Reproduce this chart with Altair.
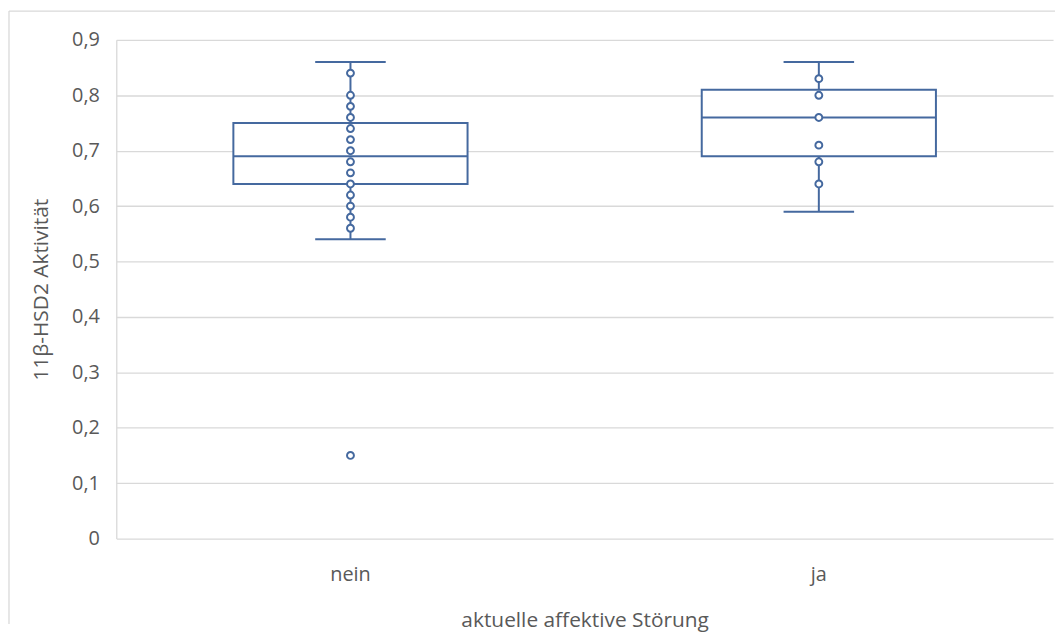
import altair as alt
import pandas as pd

# ---- data ----
categories = ["nein", "ja"]
whisker_low = [0.54, 0.59]
q1 = [0.64, 0.69]
median = [0.69, 0.76]
q3 = [0.75, 0.81]
whisker_high = [0.86, 0.86]

nein_points = [0.84, 0.80, 0.78, 0.76, 0.74, 0.72, 0.70, 0.68, 0.66, 0.64,
               0.62, 0.60, 0.58, 0.56, 0.15]
ja_points = [0.83, 0.80, 0.76, 0.71, 0.68, 0.64]

y_ticks = [0, 0.1, 0.2, 0.3, 0.4, 0.5, 0.6, 0.7, 0.8, 0.9]

x_title = "aktuelle affektive Störung"
y_title = "11β-HSD2 Aktivität"

# ---- tables ----
stats = pd.DataFrame({
    "cat": categories,
    "lo": whisker_low,
    "q1": q1,
    "med": median,
    "q3": q3,
    "hi": whisker_high,
})
points = pd.DataFrame({
    "cat": ["nein"] * len(nein_points) + ["ja"] * len(ja_points),
    "v": nein_points + ja_points,
})

BLUE = "#45699f"
GRID = "#d9d9d9"
TEXT = "#595959"
FONT = "Open Sans"
W, H = 943, 502

x_enc = alt.X(
    "cat:N",
    sort=categories,
    scale=alt.Scale(paddingInner=0, paddingOuter=0),
    axis=alt.Axis(
        title=x_title,
        domain=False,
        ticks=False,
        tickSize=0,
        grid=False,
        labelAngle=0,
        labelPadding=26,
        titlePadding=26,
    ),
)
y_scale = alt.Scale(domain=[0, 0.9], nice=False, zero=True)
y_axis = alt.Axis(
    title=y_title,
    values=y_ticks,
    labelExpr="datum.value == 0 ? '0' : replace(format(datum.value, '.1f'), '.', ',')",
    ticks=False,
    tickSize=0,
    labelPadding=17,
    titlePadding=20,
    domain=True,
    domainColor=GRID,
    domainWidth=1.3,
    grid=True,
    gridColor=GRID,
    gridWidth=1.3,
)

base = alt.Chart(stats)

whisker = base.mark_rule(color=BLUE, strokeWidth=2, opacity=1).encode(
    x=x_enc,
    y=alt.Y("lo:Q", scale=y_scale, axis=y_axis),
    y2="hi:Q",
)
box = base.mark_bar(
    width=alt.RelativeBandSize(0.5), fill="white", stroke=BLUE, strokeWidth=2,
    opacity=1
).encode(x=x_enc, y=alt.Y("q1:Q", scale=y_scale, axis=y_axis), y2="q3:Q")
med = base.mark_tick(color=BLUE, size=236, thickness=2, opacity=1).encode(
    x=x_enc, y=alt.Y("med:Q", scale=y_scale, axis=y_axis)
)
cap_hi = base.mark_tick(color=BLUE, size=71, thickness=2, opacity=1).encode(
    x=x_enc, y=alt.Y("hi:Q", scale=y_scale, axis=y_axis)
)
cap_lo = base.mark_tick(color=BLUE, size=71, thickness=2, opacity=1).encode(
    x=x_enc, y=alt.Y("lo:Q", scale=y_scale, axis=y_axis)
)
pts = alt.Chart(points).mark_point(
    shape="circle", size=48, filled=False, fill="white", fillOpacity=1,
    stroke=BLUE, strokeWidth=2, opacity=1
).encode(x=x_enc, y=alt.Y("v:Q", scale=y_scale, axis=y_axis))

# outer chart frame (top and left border, like the Excel chart area)
frame_df = pd.DataFrame({"k": [0]})
frame_top = alt.Chart(frame_df).mark_rule(color=GRID, strokeWidth=1.3).encode(
    x=alt.value(-108), x2=alt.value(945), y=alt.value(-29)
)
frame_left = alt.Chart(frame_df).mark_rule(color=GRID, strokeWidth=1.3).encode(
    x=alt.value(-108), y=alt.value(-29), y2=alt.value(588)
)

chart = (
    alt.layer(frame_top, frame_left, whisker, cap_hi, cap_lo, box, med, pts)
    .properties(
        width=W,
        height=H,
        padding={"left": 0, "top": 0, "right": 0, "bottom": 0},
        background="white",
    )
    .configure_view(stroke=None)
    .configure_axis(
        labelFont=FONT,
        titleFont=FONT,
        labelFontSize=20,
        titleFontSize=21,
        labelColor=TEXT,
        titleColor=TEXT,
        titleFontWeight="normal",
    )
)

chart.save("out.html", embed_options={"renderer": "svg", "actions": False})
